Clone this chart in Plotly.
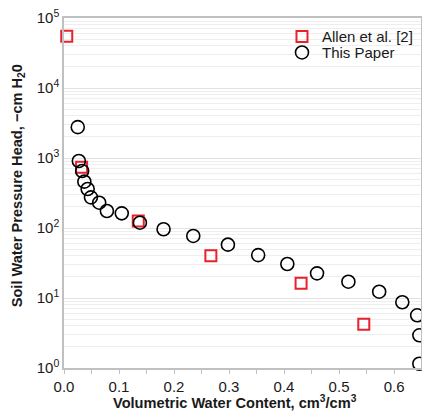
import plotly.graph_objects as go

allen_x = [0.005, 0.032, 0.135, 0.267, 0.431, 0.545]
allen_y = [55000, 740, 126, 40, 16.2, 4.2]

paper_x = [0.025, 0.027, 0.033, 0.037, 0.043, 0.049, 0.064, 0.078, 0.105, 0.138,
           0.181, 0.235, 0.298, 0.353, 0.406, 0.46, 0.517, 0.573, 0.615, 0.642,
           0.646, 0.646]
paper_y = [2760, 906, 652, 459, 361, 274, 230, 175, 162, 119,
           96, 77, 57.8, 41, 30.6, 22.5, 17.1, 12.3, 8.7, 5.66,
           2.93, 1.15]

x_tickvals = [0, 0.1, 0.2, 0.3, 0.4, 0.5, 0.6]
x_ticktext = ["0.0", "0.1", "0.2", "0.3", "0.4", "0.5", "0.6"]
y_tickvals = [1, 10, 100, 1000, 10000, 100000]
y_ticktext = ["10<sup>0</sup>", "10<sup>1</sup>", "10<sup>2</sup>",
              "10<sup>3</sup>", "10<sup>4</sup>", "10<sup>5</sup>"]

FONT = "Liberation Sans, Arial, sans-serif"
TXT = "#1a1a1a"

fig = go.Figure()
fig.add_trace(go.Scatter(
    x=allen_x, y=allen_y, mode="markers", name="Allen et al. [2]",
    marker=dict(symbol="square-open", size=11, color="#e8212b", line=dict(width=2, color="#e8212b")),
    cliponaxis=False, legend="legend",
))
fig.add_trace(go.Scatter(
    x=paper_x, y=paper_y, mode="markers", name="This Paper",
    marker=dict(symbol="circle-open", size=13, color="black", line=dict(width=1.6, color="black")),
    cliponaxis=False, legend="legend2",
))

leg_common = dict(xanchor="left", yanchor="middle", bgcolor="rgba(0,0,0,0)",
                  font=dict(size=15, color=TXT), itemwidth=30, borderwidth=0)

fig.update_layout(
    width=422, height=413,
    margin=dict(l=64, r=1, t=18, b=45, autoexpand=False),
    paper_bgcolor="white", plot_bgcolor="white",
    font=dict(family=FONT, size=14, color=TXT),
    showlegend=True,
    legend=dict(x=0.6106, y=0.9466, **leg_common),
    legend2=dict(x=0.6106, y=0.9009, **leg_common),
    xaxis=dict(
        range=[0, 0.649], tickvals=x_tickvals, ticktext=x_ticktext,
        ticks="outside", ticklen=4, tickcolor="#c0c0c0",
        minor=dict(dtick=0.05, tick0=0, ticks="outside", ticklen=4, tickcolor="#c0c0c0"),
        showgrid=False, zeroline=False, automargin=False,
        showline=True, linecolor="#c0c0c0", linewidth=1.5, mirror=True,
        tickfont=dict(size=15, color=TXT),
    ),
    yaxis=dict(
        type="log", range=[0, 5],
        tickvals=y_tickvals, ticktext=y_ticktext,
        ticks="", showgrid=True, gridcolor="#e2e2e2", gridwidth=1,
        minor=dict(dtick="D1", showgrid=True, gridcolor="#eeeeee", gridwidth=1, ticks=""),
        zeroline=False, automargin=False,
        showline=True, linecolor="#c0c0c0", linewidth=1.5, mirror=True,
        tickfont=dict(size=15, color=TXT),
    ),
)

fig.add_annotation(
    text="<b>Volumetric Water Content, cm<sup>3</sup>/cm<sup>3</sup></b>",
    xref="paper", yref="paper", x=0.48, y=-0.096, xanchor="center", yanchor="middle",
    showarrow=False, font=dict(size=14.6, color=TXT),
)
fig.add_annotation(
    text="<b>Soil Water Pressure Head, \u2212cm H<sub>2</sub>0</b>",
    xref="paper", yref="paper", x=-0.128, y=0.52, xanchor="center", yanchor="middle",
    textangle=-90, showarrow=False, font=dict(size=14.6, color=TXT),
)

fig.write_html(
    "out.html",
    config={"displayModeBar": False},
    post_script="document.body.style.margin='0';document.body.style.padding='0';",
)
